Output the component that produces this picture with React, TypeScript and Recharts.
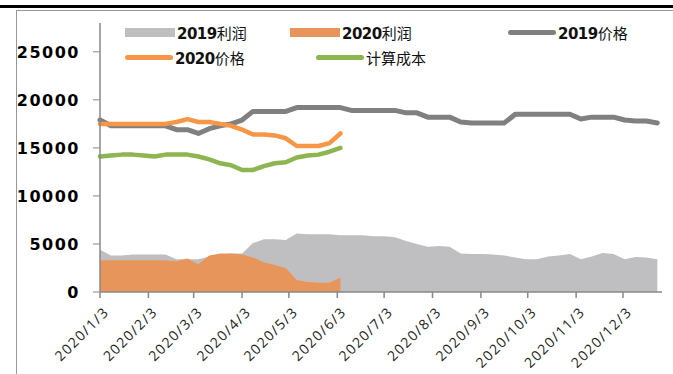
import { ComposedChart, Area, Line, XAxis, YAxis } from 'recharts';

const dates = [
  '2020/1/3', '2020/1/10', '2020/1/17', '2020/1/24', '2020/1/31', '2020/2/7', '2020/2/14', '2020/2/21',
  '2020/2/28', '2020/3/6', '2020/3/13', '2020/3/20', '2020/3/27', '2020/4/3', '2020/4/10', '2020/4/17',
  '2020/4/24', '2020/5/1', '2020/5/8', '2020/5/15', '2020/5/22', '2020/5/29', '2020/6/5', '2020/6/12',
  '2020/6/19', '2020/6/26', '2020/7/3', '2020/7/10', '2020/7/17', '2020/7/24', '2020/7/31', '2020/8/7',
  '2020/8/14', '2020/8/21', '2020/8/28', '2020/9/4', '2020/9/11', '2020/9/18', '2020/9/25', '2020/10/2',
  '2020/10/9', '2020/10/16', '2020/10/23', '2020/10/30', '2020/11/6', '2020/11/13', '2020/11/20', '2020/11/27',
  '2020/12/4', '2020/12/11', '2020/12/18', '2020/12/25',
];

const price2019 = [
  17900, 17300, 17300, 17300, 17300, 17300, 17300, 16900, 16900, 16500, 17000, 17300, 17500, 17900, 18800, 18800,
  18800, 18800, 19200, 19200, 19200, 19200, 19200, 18900, 18900, 18900, 18900, 18900, 18650, 18650, 18200, 18200,
  18200, 17700, 17600, 17600, 17600, 17600, 18500, 18500, 18500, 18500, 18500, 18500, 18000, 18200, 18200, 18200,
  17900, 17800, 17800, 17600,
];
const profit2019 = [
  4400, 3800, 3800, 3900, 3900, 3900, 3900, 3400, 3400, 3400, 3700, 3900, 4000, 4000, 5100, 5500,
  5500, 5400, 6100, 6000, 6000, 6000, 5900, 5900, 5900, 5800, 5800, 5700, 5300, 5000, 4700, 4800,
  4700, 4000, 3950, 3950, 3900, 3800, 3600, 3400, 3400, 3700, 3800, 3950, 3400, 3700, 4050, 3950,
  3400, 3650, 3600, 3400,
];
const price2020 = [
  17500, 17500, 17500, 17500, 17500, 17500, 17500, 17700, 18000, 17700, 17700, 17500, 17300, 16900, 16400, 16400,
  16300, 16000, 15200, 15200, 15200, 15500, 16500,
];
const profit2020 = [
  3300, 3300, 3300, 3300, 3300, 3300, 3300, 3200, 3500, 2900, 3800, 4000, 4000, 3900, 3600, 3100,
  2800, 2500, 1250, 1050, 950, 950, 1500,
];
const cost = [
  14100, 14200, 14300, 14300, 14200, 14100, 14300, 14300, 14300, 14100, 13800, 13400, 13200, 12700, 12700, 13100,
  13400, 13500, 14000, 14200, 14300, 14600, 15000,
];

const monthTicks = [
  '2020/1/3', '2020/2/3', '2020/3/3', '2020/4/3', '2020/5/3', '2020/6/3',
  '2020/7/3', '2020/8/3', '2020/9/3', '2020/10/3', '2020/11/3', '2020/12/3',
];
const yTicks = [0, 5000, 10000, 15000, 20000, 25000];

const C_PROFIT19 = '#bfbfc1';
const C_PROFIT20 = '#e8955c';
const C_PRICE19 = '#808080';
const C_PRICE20 = '#f79646';
const C_COST = '#8db550';

const toDay = (s: string) => {
  const [y, m, d] = s.split('/').map(Number);
  return (Date.UTC(y, m - 1, d) - Date.UTC(2020, 0, 3)) / 86400000;
};
const dayLabel = new Map(monthTicks.map((s) => [toDay(s), s]));

const data = dates.map((d, i) => ({
  day: toDay(d),
  p19: profit2019[i],
  p20: profit2020[i],
  pr19: price2019[i],
  pr20: price2020[i],
  cost: cost[i],
}));

const XTick = ({ x, y, payload }: any) => (
  <text
    x={0}
    y={0}
    transform={`translate(${x + 6},${y + 9}) rotate(-45)`}
    textAnchor="end"
    dominantBaseline="central"
    fontSize={14}
    letterSpacing={1.4}
    fill="#222"
    fontFamily="'Open Sans', sans-serif"
  >
    {dayLabel.get(payload.value)}
  </text>
);

const legendItems = [
  { label: '2019利润', color: C_PROFIT19, kind: 'area', left: 125, top: 23 },
  { label: '2020利润', color: C_PROFIT20, kind: 'area', left: 290, top: 23 },
  { label: '2019价格', color: C_PRICE19, kind: 'line', left: 508, top: 23 },
  { label: '2020价格', color: C_PRICE20, kind: 'line', left: 125, top: 48 },
  { label: '计算成本', color: C_COST, kind: 'line', left: 316, top: 48 },
];

function LegendItem({ label, color, kind, left, top }: any) {
  const digits = label.match(/^\d+/)?.[0] ?? '';
  const rest = label.slice(digits.length);
  return (
    <div style={{ position: 'absolute', left, top, display: 'flex', alignItems: 'center', height: 18 }}>
      <div
        style={{
          width: kind === 'area' ? 50 : 48,
          height: kind === 'area' ? 9 : 5,
          borderRadius: kind === 'area' ? 0 : 3,
          background: color,
          marginRight: 2,
        }}
      />
      <span style={{ fontSize: 15, color: '#111', fontFamily: "'Noto Sans CJK SC', 'DejaVu Sans', sans-serif" }}>
        <b style={{ fontFamily: "'DejaVu Sans', sans-serif", fontWeight: 800, letterSpacing: -0.5 }}>{digits}</b>
        {rest}
      </span>
    </div>
  );
}

export default function App() {
  return (
    <div style={{ position: 'fixed', left: 0, top: 0, width: 673, height: 374, background: '#fff', overflow: 'hidden' }}>
      <div style={{ position: 'absolute', left: 0, top: 5, width: 673, height: 3, background: '#000' }} />
      <div style={{ position: 'absolute', left: 16, top: 10, width: 660, height: 370, borderTop: '1px solid #999', borderLeft: '1px solid #999' }} />
      <ComposedChart width={673} height={374} data={data} margin={{ top: 23, right: 11, bottom: 12, left: 10 }}>
        <XAxis
          dataKey="day"
          type="number"
          domain={[0, 360]}
          ticks={monthTicks.map(toDay)}
          tick={<XTick />}
          interval={0}
          height={70}
          axisLine={{ stroke: '#888', strokeWidth: 1.5 }}
          tickLine={{ stroke: '#888', strokeWidth: 1.5 }}
          tickSize={6}
        />
        <YAxis
          domain={[0, 28000]}
          ticks={yTicks}
          width={90}
          interval={0}
          axisLine={{ stroke: '#888', strokeWidth: 1.5 }}
          tickLine={{ stroke: '#888', strokeWidth: 1 }}
          tickSize={7}
          tickMargin={13}
          tick={{ fontSize: 16, fontWeight: 800, fill: '#000', fontFamily: "'DejaVu Sans', sans-serif", letterSpacing: 1.5 }}
        />
        <Area dataKey="p19" type="linear" stroke="none" fill={C_PROFIT19} fillOpacity={1} isAnimationActive={false} />
        <Area dataKey="p20" type="linear" stroke="none" fill={C_PROFIT20} fillOpacity={1} isAnimationActive={false} />
        <Line dataKey="pr19" type="linear" stroke={C_PRICE19} strokeWidth={5} dot={false} strokeLinejoin="round" strokeLinecap="round" isAnimationActive={false} />
        <Line dataKey="pr20" type="linear" stroke={C_PRICE20} strokeWidth={4.5} dot={false} strokeLinejoin="round" strokeLinecap="round" isAnimationActive={false} />
        <Line dataKey="cost" type="linear" stroke={C_COST} strokeWidth={4.5} dot={false} strokeLinejoin="round" strokeLinecap="round" isAnimationActive={false} />
      </ComposedChart>
      {legendItems.map((it) => (
        <LegendItem key={it.label} {...it} />
      ))}
    </div>
  );
}
